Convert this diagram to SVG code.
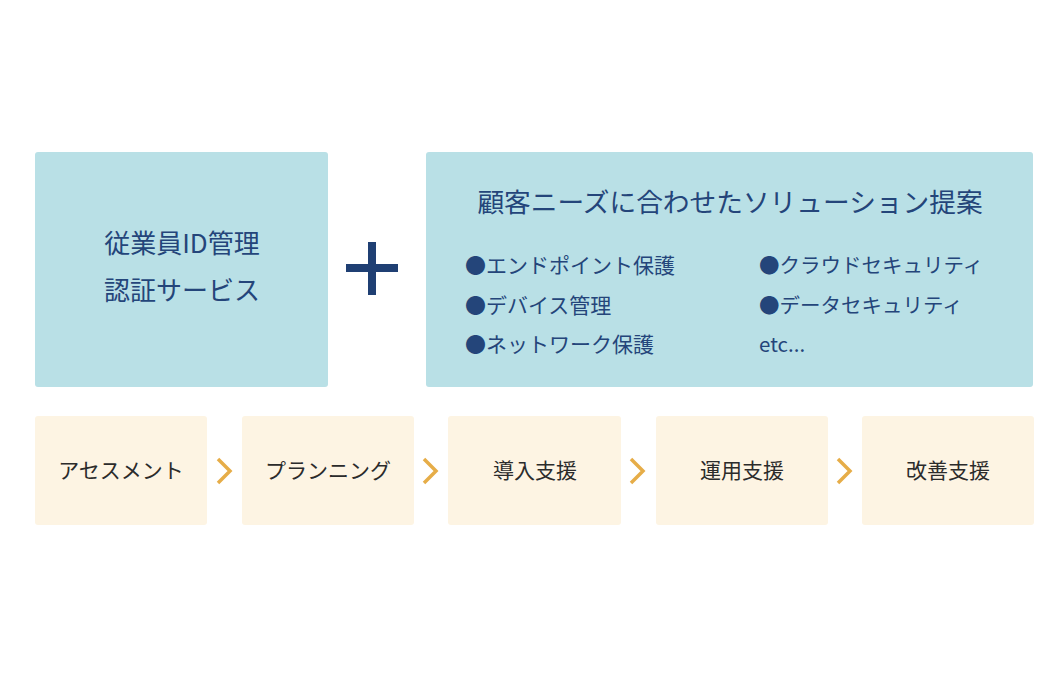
<svg xmlns="http://www.w3.org/2000/svg" width="1064" height="676" viewBox="0 0 1064 676">
<style>
.blue{fill:#b9e0e6}
.cream{fill:#fdf4e3}
.bt{font-family:"Noto Sans CJK JP","Noto Sans",sans-serif;fill:#24457a}
.st{font-family:"Noto Sans CJK JP","Noto Sans",sans-serif;fill:#2b2b2b;font-size:21px;text-anchor:middle}
.chev{fill:none;stroke:#e6ad48;stroke-width:3.5}
</style>
<rect width="1064" height="676" fill="#ffffff"/>
<g id="node-id">
<rect class="blue" x="35" y="152" width="293" height="235" rx="3"/>
<text class="bt" x="182" y="253" font-size="26" text-anchor="middle">従業員ID管理</text>
<text class="bt" x="182" y="300" font-size="26" text-anchor="middle">認証サービス</text>
</g>
<g id="plus">
<rect x="346" y="264" width="52" height="8" fill="#1f3f73"/>
<rect x="368" y="242" width="8" height="53" fill="#1f3f73"/>
</g>
<g id="node-solution">
<rect class="blue" x="426" y="152" width="607" height="235" rx="3"/>
<text class="bt" x="730" y="212" font-size="26.7" text-anchor="middle">顧客ニーズに合わせたソリューション提案</text>
<text class="bt" x="465" y="273" font-size="21">●エンドポイント保護</text>
<text class="bt" x="465" y="313" font-size="21">●デバイス管理</text>
<text class="bt" x="465" y="352" font-size="21">●ネットワーク保護</text>
<text class="bt" x="759" y="273" font-size="20.5">●クラウドセキュリティ</text>
<text class="bt" x="759" y="313" font-size="20.5">●データセキュリティ</text>
<text class="bt" x="759" y="352" font-size="20.5">etc...</text>
</g>
<g id="step1"><rect class="cream" x="35" y="416" width="172" height="109" rx="3"/><text class="st" x="121" y="478">アセスメント</text></g>
<g id="step2"><rect class="cream" x="242" y="416" width="172" height="109" rx="3"/><text class="st" x="328" y="478">プランニング</text></g>
<g id="step3"><rect class="cream" x="448" y="416" width="173" height="109" rx="3"/><text class="st" x="535" y="478">導入支援</text></g>
<g id="step4"><rect class="cream" x="656" y="416" width="172" height="109" rx="3"/><text class="st" x="742" y="478">運用支援</text></g>
<g id="step5"><rect class="cream" x="862" y="416" width="172" height="109" rx="3"/><text class="st" x="948" y="478">改善支援</text></g>
<g id="connectors">
<polyline class="chev" points="218,459 230,471 218,483"/>
<polyline class="chev" points="424,459 436,471 424,483"/>
<polyline class="chev" points="631,459 643,471 631,483"/>
<polyline class="chev" points="838,459 850,471 838,483"/>
</g>
</svg>
